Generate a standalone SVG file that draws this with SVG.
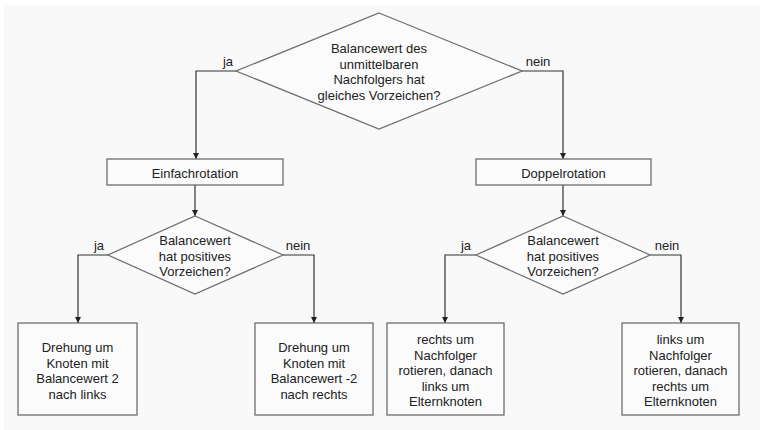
<svg xmlns="http://www.w3.org/2000/svg" width="760" height="430" viewBox="0 0 760 430">
<defs>
<marker id="arr" viewBox="0 0 8 8" refX="8" refY="4" markerWidth="6" markerHeight="6" orient="auto" markerUnits="userSpaceOnUse">
<path d="M0,0 L8,4 L0,8 z" fill="#222"/>
</marker>
</defs>
<style>
.shape{fill:#fbfbfb;stroke:#6e6e6e;stroke-width:1.3}
.conn{fill:none;stroke:#333;stroke-width:1.2}
text{font-family:"Liberation Sans",Arial,sans-serif;font-size:13px;fill:#222;text-anchor:middle}
</style>
<rect x="0" y="0" width="760" height="430" fill="#ffffff"/>
<rect x="4" y="5" width="756" height="425" fill="#f9f9f9"/>

<g id="connectors">
<polyline class="conn" points="236,71 196,71 196,159" marker-end="url(#arr)"/>
<polyline class="conn" points="522,71 563,71 563,159" marker-end="url(#arr)"/>
<line class="conn" x1="195" y1="185" x2="195" y2="216" marker-end="url(#arr)"/>
<line class="conn" x1="563" y1="185" x2="563" y2="216" marker-end="url(#arr)"/>
<polyline class="conn" points="109,255 78,255 78,323" marker-end="url(#arr)"/>
<polyline class="conn" points="283,255 314,255 314,323" marker-end="url(#arr)"/>
<polyline class="conn" points="476,255 445,255 445,323" marker-end="url(#arr)"/>
<polyline class="conn" points="650,255 681,255 681,323" marker-end="url(#arr)"/>
<text x="228" y="66">ja</text>
<text x="538" y="66">nein</text>
<text x="99" y="250">ja</text>
<text x="298" y="250">nein</text>
<text x="466" y="250">ja</text>
<text x="667" y="250">nein</text>
</g>

<g id="d1">
<polygon class="shape" points="379,13 522,71 379,129 236,71"/>
<text x="379" y="53">Balancewert des</text>
<text x="379" y="68.5">unmittelbaren</text>
<text x="379" y="84">Nachfolgers hat</text>
<text x="379" y="99.5">gleiches Vorzeichen?</text>
</g>

<g id="einfach">
<rect class="shape" x="107" y="159" width="176" height="26"/>
<text x="195" y="177.5">Einfachrotation</text>
</g>

<g id="doppel">
<rect class="shape" x="476" y="159" width="175" height="26"/>
<text x="563.5" y="177.5">Doppelrotation</text>
</g>

<g id="d2">
<polygon class="shape" points="195,216 283,255 195,294 108,255"/>
<text x="195" y="245">Balancewert</text>
<text x="195" y="260.5">hat positives</text>
<text x="195" y="276">Vorzeichen?</text>
</g>

<g id="d3">
<polygon class="shape" points="563,216 650,255 563,294 476,255"/>
<text x="563" y="245">Balancewert</text>
<text x="563" y="260.5">hat positives</text>
<text x="563" y="276">Vorzeichen?</text>
</g>

<g id="b1">
<rect class="shape" x="18" y="323" width="119" height="92"/>
<text x="77.5" y="352">Drehung um</text>
<text x="77.5" y="367.5">Knoten mit</text>
<text x="77.5" y="383">Balancewert 2</text>
<text x="77.5" y="398.5">nach links</text>
</g>

<g id="b2">
<rect class="shape" x="255" y="323" width="118" height="92"/>
<text x="314" y="352">Drehung um</text>
<text x="314" y="367.5">Knoten mit</text>
<text x="314" y="383">Balancewert -2</text>
<text x="314" y="398.5">nach rechts</text>
</g>

<g id="b3">
<rect class="shape" x="387" y="323" width="117" height="92"/>
<text x="445.5" y="344">rechts um</text>
<text x="445.5" y="359.5">Nachfolger</text>
<text x="445.5" y="375">rotieren, danach</text>
<text x="445.5" y="390.5">links um</text>
<text x="445.5" y="406">Elternknoten</text>
</g>

<g id="b4">
<rect class="shape" x="622" y="323" width="117" height="92"/>
<text x="680.5" y="344">links um</text>
<text x="680.5" y="359.5">Nachfolger</text>
<text x="680.5" y="375">rotieren, danach</text>
<text x="680.5" y="390.5">rechts um</text>
<text x="680.5" y="406">Elternknoten</text>
</g>
</svg>
